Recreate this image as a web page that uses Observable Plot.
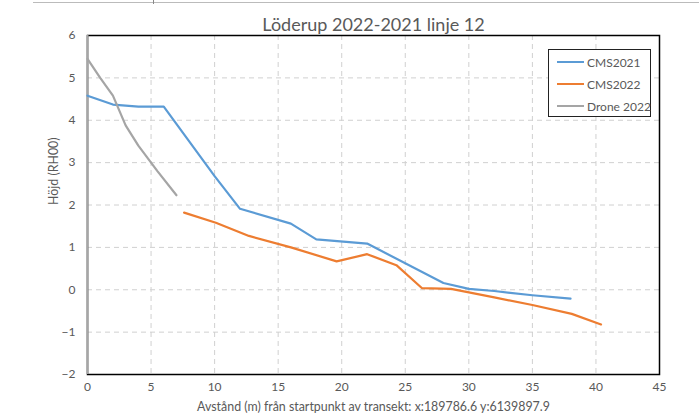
<!DOCTYPE html>
<html><head><meta charset="utf-8">
<script src="https://cdn.jsdelivr.net/npm/d3@7"></script>
<script src="https://cdn.jsdelivr.net/npm/@observablehq/plot@0.6"></script>
<style>
body{margin:0;background:#fff;}
#chart{position:relative;width:699px;height:420px;font-family:Lato,"Open Sans",sans-serif;}
#legend{position:absolute;left:548px;top:49px;width:103px;height:68px;border:1px solid #222;background:#fff;box-sizing:border-box;font-size:12px;color:#595959;}
#legend .item{position:absolute;left:8px;height:14px;display:flex;align-items:center;white-space:nowrap;}
#legend .sw{width:27px;height:2px;margin-right:3px;}
#topline{position:absolute;left:33px;top:2px;width:666px;height:1px;background:#bbb;}
#topmark{position:absolute;left:153px;top:0px;width:1px;height:4px;background:#888;}
</style></head><body><div id="chart"><div id="topline"></div><div id="topmark"></div></div>
<script>
const seriesNames = ["CMS2021", "CMS2022", "Drone 2022"];
const seriesColors = ["#5B9BD5", "#ED7D31", "#A5A5A5"];

const cms2021X = [0, 2, 4, 6, 10, 12, 16, 18, 22, 28, 30, 32, 35, 38];
const cms2021Y = [4.58, 4.37, 4.32, 4.32, 2.68, 1.91, 1.56, 1.19, 1.09, 0.16, 0.02, -0.03, -0.13, -0.21];

const cms2022X = [7.6, 10.1, 12.7, 16, 19.6, 22, 24.3, 26.3, 28.6, 32, 35, 38.1, 40.4];
const cms2022Y = [1.82, 1.58, 1.27, 1.0, 0.67, 0.84, 0.58, 0.04, 0.02, -0.18, -0.36, -0.57, -0.82];

const droneX = [0, 1, 2, 3, 4, 5.5, 7];
const droneY = [5.45, 5.0, 4.58, 3.88, 3.4, 2.8, 2.23];

const xTicks = [0, 5, 10, 15, 20, 25, 30, 35, 40, 45];
const yTicks = [-2, -1, 0, 1, 2, 3, 4, 5, 6];

const titleText = "Löderup 2022-2021 linje 12";
const xLabel = "Avstånd (m) från startpunkt av transekt: x:189786.6 y:6139897.9";
const yLabel = "Höjd (RH00)";

const mk = (name, xs, ys) => xs.map((x, i) => ({series: name, x, y: ys[i]}));
const data = [
  ...mk(seriesNames[0], cms2021X, cms2021Y),
  ...mk(seriesNames[1], cms2022X, cms2022Y),
  ...mk(seriesNames[2], droneX, droneY)
];

const grey = "#595959";
const plot = Plot.plot({
  width: 699, height: 420,
  marginLeft: 87, marginRight: 40, marginTop: 35, marginBottom: 46,
  style: {fontFamily: "Lato, 'Open Sans', sans-serif", fontSize: "12px", color: grey, background: "#fff"},
  x: {domain: [0, 45], ticks: xTicks},
  y: {domain: [-2, 6], ticks: yTicks},
  color: {domain: seriesNames, range: seriesColors},
  marks: [
    Plot.gridX(xTicks.slice(1, -1), {stroke: "#d0d0d0", strokeOpacity: 1, strokeDasharray: "5,4"}),
    Plot.gridY(yTicks.slice(1, -1), {stroke: "#d0d0d0", strokeOpacity: 1, strokeDasharray: "5,4"}),
    Plot.axisX(xTicks, {tickSize: 0, tickPadding: 8, fill: grey, fontSize: 12, label: null}),
    Plot.axisY(yTicks, {tickSize: 0, tickPadding: 12, fill: grey, fontSize: 12, label: null}),
    Plot.text([xLabel], {frameAnchor: "bottom", dy: 36, fontSize: 12.4, fill: grey}),
    Plot.text([yLabel], {frameAnchor: "left", dx: -33, rotate: -90, fontSize: 12.4, fill: grey}),
    Plot.frame({stroke: "#000", strokeWidth: 1.5}),
    Plot.ruleX([0], {stroke: "#a6a6a6", strokeWidth: 2}),
    Plot.line(data, {x: "x", y: "y", z: "series", stroke: "series", strokeWidth: 2.2, curve: "linear"}),
    Plot.text([titleText], {frameAnchor: "top", dy: -5, lineAnchor: "bottom", fontSize: 18, fill: grey})
  ]
});
document.getElementById("chart").appendChild(plot);

const lg = document.createElement("div");
lg.id = "legend";
seriesNames.forEach((n, i) => {
  const it = document.createElement("div");
  it.className = "item";
  it.style.top = (5 + i * 22) + "px";
  it.innerHTML = `<span class="sw" style="background:${seriesColors[i]}"></span><span>${n}</span>`;
  lg.appendChild(it);
});
document.getElementById("chart").appendChild(lg);
</script>
</body></html>
